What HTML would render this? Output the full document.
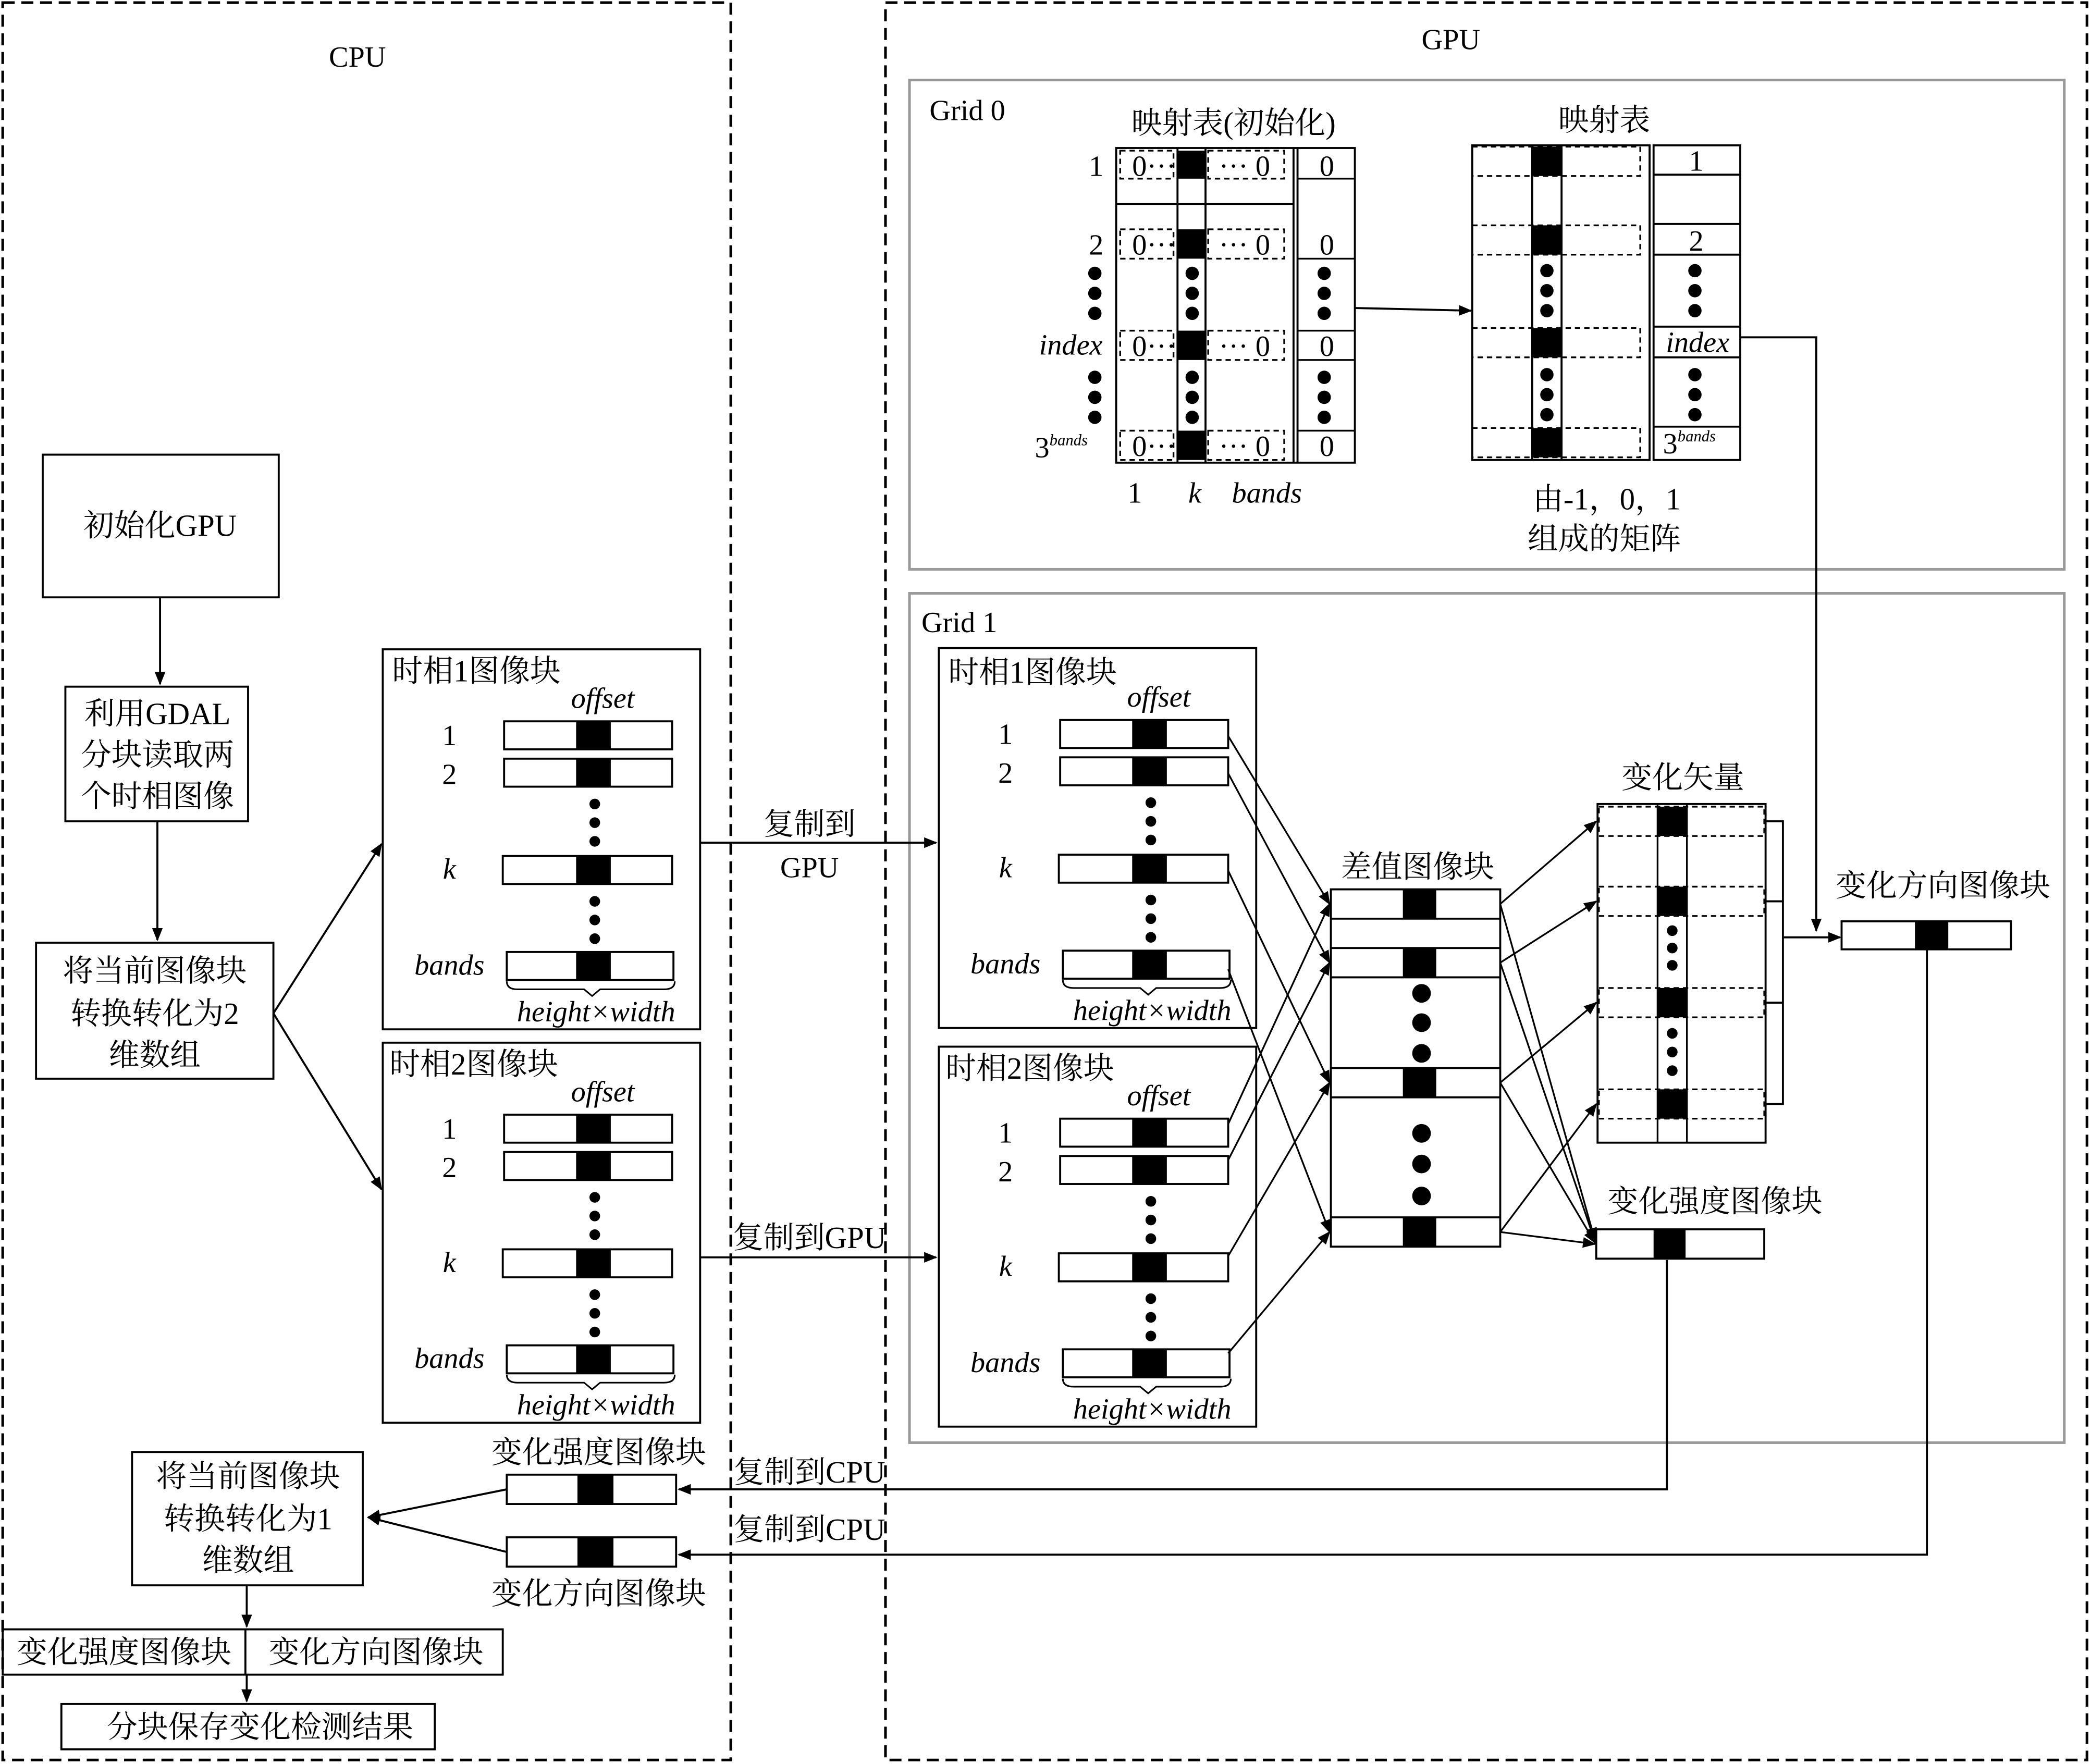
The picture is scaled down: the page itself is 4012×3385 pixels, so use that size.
<!DOCTYPE html>
<html><head><meta charset="utf-8"><style>
html,body{margin:0;padding:0;background:#fff;}
svg{display:block;}
text{font-family:"Liberation Serif","Noto Serif CJK SC",serif;fill:#000;}
.cn{font-size:23px;}
.it{font-style:italic;font-size:22px;}
.n{font-size:22px;}
</style></head><body>
<svg width="4012" height="3385" viewBox="0 0 1568 1323" xmlns="http://www.w3.org/2000/svg">
<defs>
<marker id="a" markerWidth="10" markerHeight="8" refX="9" refY="4" orient="auto" markerUnits="userSpaceOnUse"><path d="M0,0 L10,4 L0,8 z" fill="#000"/></marker>
<g id="blk">
<rect x="0" y="0" width="238" height="285" fill="none" stroke="#000" stroke-width="1.5"/>
<text x="165" y="44" class="it" text-anchor="middle">offset</text>
<text x="50" y="72" class="n" text-anchor="middle">1</text>
<rect x="91" y="54" width="126" height="21" fill="#fff" stroke="#000" stroke-width="1.5"/><rect x="145" y="54" width="26" height="21"/>
<text x="50" y="101" class="n" text-anchor="middle">2</text>
<rect x="91" y="82" width="126" height="21" fill="#fff" stroke="#000" stroke-width="1.5"/><rect x="145" y="82" width="26" height="21"/>
<circle cx="159" cy="116" r="4"/><circle cx="159" cy="130" r="4"/><circle cx="159" cy="144" r="4"/>
<text x="50" y="172" class="it" text-anchor="middle">k</text>
<rect x="90" y="155" width="127" height="21" fill="#fff" stroke="#000" stroke-width="1.5"/><rect x="145" y="155" width="26" height="21"/>
<circle cx="159" cy="189" r="4"/><circle cx="159" cy="203" r="4"/><circle cx="159" cy="217" r="4"/>
<text x="50" y="244" class="it" text-anchor="middle">bands</text>
<rect x="93" y="227" width="125" height="21" fill="#fff" stroke="#000" stroke-width="1.5"/><rect x="145" y="227" width="26" height="21"/>
<path d="M93,249 q0,6 8,6 h50 l6,5 l6,-5 h48 q8,0 8,-6" fill="none" stroke="#000" stroke-width="1.2"/>
<text x="160" y="279" class="it" text-anchor="middle">height×width</text>
</g>
</defs>
<rect width="1568" height="1323" fill="#fff"/>
<!-- main dashed boxes -->
<rect x="2" y="2" width="546" height="1318" fill="none" stroke="#000" stroke-width="2" stroke-dasharray="9,5"/>
<rect x="664" y="2" width="901" height="1318" fill="none" stroke="#000" stroke-width="2" stroke-dasharray="9,5"/>
<text x="268" y="50" class="n" text-anchor="middle">CPU</text>
<text x="1088" y="37" class="n" text-anchor="middle">GPU</text>
<rect x="682" y="60" width="866" height="367" fill="none" stroke="#999" stroke-width="2"/>
<rect x="682" y="445" width="866" height="637" fill="none" stroke="#999" stroke-width="2"/>
<text x="697" y="90" class="n">Grid 0</text>
<text x="691" y="474" class="n">Grid 1</text>

<!-- CPU flow -->
<g stroke="#000" stroke-width="1.5" fill="none">
<rect x="32" y="341" width="177" height="107"/>
<rect x="49" y="515" width="137" height="101"/>
<rect x="27" y="707" width="178" height="102"/>
<rect x="99" y="1089" width="173" height="100"/>
<rect x="2" y="1222" width="375" height="34"/><line x1="184" y1="1222" x2="184" y2="1256"/>
<rect x="46" y="1278" width="280" height="34"/>
<line x1="120" y1="448" x2="120" y2="513" marker-end="url(#a)"/>
<line x1="118" y1="616" x2="118" y2="705" marker-end="url(#a)"/>
<line x1="205" y1="760" x2="286" y2="633" marker-end="url(#a)"/>
<line x1="205" y1="760" x2="286" y2="892" marker-end="url(#a)"/>
<line x1="185" y1="1189" x2="185" y2="1220" marker-end="url(#a)"/>
<line x1="185" y1="1256" x2="185" y2="1276" marker-end="url(#a)"/>
<line x1="380" y1="1117" x2="276" y2="1138" marker-end="url(#a)"/>
<line x1="380" y1="1164" x2="276" y2="1138" marker-end="url(#a)"/>
<line x1="525" y1="632" x2="702" y2="632" marker-end="url(#a)"/>
<line x1="525" y1="943" x2="702" y2="943" marker-end="url(#a)"/>
<polyline points="1250,945 1250,1117 509,1117" marker-end="url(#a)"/>
<polyline points="1445,712 1445,1166 509,1166" marker-end="url(#a)"/>
</g>
<text x="120" y="402" class="cn" text-anchor="middle">初始化GPU</text>
<text x="118" y="543" class="cn" text-anchor="middle">利用GDAL</text>
<text x="118" y="574" class="cn" text-anchor="middle">分块读取两</text>
<text x="118" y="605" class="cn" text-anchor="middle">个时相图像</text>
<text x="116" y="736" class="cn" text-anchor="middle">将当前图像块</text>
<text x="116" y="768" class="cn" text-anchor="middle">转换转化为2</text>
<text x="116" y="799" class="cn" text-anchor="middle">维数组</text>
<text x="186" y="1115" class="cn" text-anchor="middle">将当前图像块</text>
<text x="186" y="1147" class="cn" text-anchor="middle">转换转化为1</text>
<text x="186" y="1178" class="cn" text-anchor="middle">维数组</text>
<text x="93" y="1247" class="cn" text-anchor="middle">变化强度图像块</text>
<text x="282" y="1247" class="cn" text-anchor="middle">变化方向图像块</text>
<text x="195" y="1303" class="cn" text-anchor="middle">分块保存变化检测结果</text>
<text x="607" y="626" class="cn" text-anchor="middle">复制到</text>
<text x="607" y="658" class="n" text-anchor="middle">GPU</text>
<text x="607" y="936" class="cn" text-anchor="middle">复制到GPU</text>
<text x="607" y="1112" class="cn" text-anchor="middle">复制到CPU</text>
<text x="607" y="1155" class="cn" text-anchor="middle">复制到CPU</text>
<text x="449" y="1097" class="cn" text-anchor="middle">变化强度图像块</text>
<rect x="380" y="1106" width="127" height="22" fill="#fff" stroke="#000" stroke-width="1.5"/><rect x="433" y="1106" width="27" height="22"/>
<rect x="380" y="1153" width="127" height="22" fill="#fff" stroke="#000" stroke-width="1.5"/><rect x="433" y="1153" width="27" height="22"/>
<text x="449" y="1203" class="cn" text-anchor="middle">变化方向图像块</text>

<!-- phase blocks -->
<use href="#blk" x="287" y="487"/><text x="294" y="511" class="cn">时相1图像块</text>
<use href="#blk" x="287" y="782"/><text x="292" y="806" class="cn">时相2图像块</text>
<use href="#blk" x="704" y="486"/><text x="711" y="512" class="cn">时相1图像块</text>
<use href="#blk" x="704" y="785"/><text x="709" y="809" class="cn">时相2图像块</text>

<!-- Grid 0 tables -->
<text x="925" y="100" class="cn" text-anchor="middle">映射表(初始化)</text>
<g stroke="#000" stroke-width="1.5" fill="none">
<rect x="837" y="111" width="179" height="236"/>
<line x1="970" y1="111" x2="970" y2="347"/><line x1="973" y1="111" x2="973" y2="347"/>
<line x1="883" y1="111" x2="883" y2="347"/><line x1="904" y1="111" x2="904" y2="347"/>
</g>
<g fill="#000"><rect x="883" y="113" width="21" height="21"/><rect x="883" y="172" width="21" height="22"/><rect x="883" y="248" width="21" height="22"/><rect x="883" y="323" width="21" height="22"/></g>
<g stroke="#000" stroke-width="1.3" fill="none" stroke-dasharray="4,3">
<rect x="840" y="113" width="40" height="21"/><rect x="906" y="113" width="57" height="21"/>
<rect x="840" y="172" width="40" height="22"/><rect x="906" y="172" width="57" height="22"/>
<rect x="840" y="248" width="40" height="22"/><rect x="906" y="248" width="57" height="22"/>
<rect x="840" y="323" width="40" height="22"/><rect x="906" y="323" width="57" height="22"/>
</g>
<g stroke="#000" stroke-width="1.3"><line x1="973" y1="134" x2="1016" y2="134"/><line x1="973" y1="194" x2="1016" y2="194"/><line x1="973" y1="248" x2="1016" y2="248"/><line x1="973" y1="270" x2="1016" y2="270"/><line x1="973" y1="323" x2="1016" y2="323"/><line x1="837" y1="153" x2="970" y2="153"/></g>
<g class="n">
<text x="849" y="132" class="n">0···</text><text x="914" y="132" class="n">··· 0</text><text x="995" y="132" class="n" text-anchor="middle">0</text>
<text x="849" y="191" class="n">0···</text><text x="914" y="191" class="n">··· 0</text><text x="995" y="191" class="n" text-anchor="middle">0</text>
<text x="849" y="267" class="n">0···</text><text x="914" y="267" class="n">··· 0</text><text x="995" y="267" class="n" text-anchor="middle">0</text>
<text x="849" y="342" class="n">0···</text><text x="914" y="342" class="n">··· 0</text><text x="995" y="342" class="n" text-anchor="middle">0</text>
</g>
<g fill="#000">
<circle cx="894" cy="205" r="5"/><circle cx="894" cy="220" r="5"/><circle cx="894" cy="235" r="5"/>
<circle cx="894" cy="283" r="5"/><circle cx="894" cy="298" r="5"/><circle cx="894" cy="313" r="5"/>
<circle cx="993" cy="205" r="5"/><circle cx="993" cy="220" r="5"/><circle cx="993" cy="235" r="5"/>
<circle cx="993" cy="283" r="5"/><circle cx="993" cy="298" r="5"/><circle cx="993" cy="313" r="5"/>
<circle cx="821" cy="205" r="5"/><circle cx="821" cy="220" r="5"/><circle cx="821" cy="235" r="5"/>
<circle cx="821" cy="283" r="5"/><circle cx="821" cy="298" r="5"/><circle cx="821" cy="313" r="5"/>
</g>
<text x="822" y="132" class="n" text-anchor="middle">1</text>
<text x="822" y="191" class="n" text-anchor="middle">2</text>
<text x="803" y="266" class="it" text-anchor="middle">index</text>
<text x="776" y="343" class="n">3<tspan font-size="12" font-style="italic" dy="-9">bands</tspan></text>
<text x="851" y="377" class="n" text-anchor="middle">1</text>
<text x="896" y="377" class="it" text-anchor="middle">k</text>
<text x="950" y="377" class="it" text-anchor="middle">bands</text>
<line x1="1016" y1="231" x2="1103" y2="233" stroke="#000" stroke-width="1.5" marker-end="url(#a)"/>

<text x="1203" y="98" class="cn" text-anchor="middle">映射表</text>
<g stroke="#000" stroke-width="1.5" fill="none">
<rect x="1104" y="109" width="133" height="236"/>
<rect x="1240" y="109" width="65" height="236"/>
<line x1="1149" y1="109" x2="1149" y2="345"/><line x1="1171" y1="109" x2="1171" y2="345"/>
<line x1="1240" y1="131" x2="1305" y2="131"/><line x1="1240" y1="168" x2="1305" y2="168"/><line x1="1240" y1="191" x2="1305" y2="191"/>
<line x1="1240" y1="245" x2="1305" y2="245"/><line x1="1240" y1="268" x2="1305" y2="268"/><line x1="1240" y1="320" x2="1305" y2="320"/>
</g>
<g stroke="#000" stroke-width="1.3" fill="none" stroke-dasharray="4,3">
<rect x="1104" y="110" width="126" height="22"/><rect x="1104" y="169" width="126" height="22"/><rect x="1104" y="246" width="126" height="22"/><rect x="1104" y="321" width="126" height="22"/>
</g>
<g fill="#000"><rect x="1149" y="110" width="22" height="22"/><rect x="1149" y="169" width="22" height="22"/><rect x="1149" y="246" width="22" height="22"/><rect x="1149" y="321" width="22" height="22"/>
<circle cx="1160" cy="203" r="5"/><circle cx="1160" cy="218" r="5"/><circle cx="1160" cy="233" r="5"/>
<circle cx="1160" cy="281" r="5"/><circle cx="1160" cy="296" r="5"/><circle cx="1160" cy="311" r="5"/>
<circle cx="1271" cy="203" r="5"/><circle cx="1271" cy="218" r="5"/><circle cx="1271" cy="233" r="5"/>
<circle cx="1271" cy="281" r="5"/><circle cx="1271" cy="296" r="5"/><circle cx="1271" cy="311" r="5"/></g>
<text x="1272" y="128" class="n" text-anchor="middle">1</text>
<text x="1272" y="188" class="n" text-anchor="middle">2</text>
<text x="1273" y="264" class="it" text-anchor="middle">index</text>
<text x="1247" y="340" class="n">3<tspan font-size="12" font-style="italic" dy="-9">bands</tspan></text>
<text x="1205" y="382" class="cn" text-anchor="middle">由-1，0，1</text>
<text x="1203" y="412" class="cn" text-anchor="middle">组成的矩阵</text>
<polyline points="1305,253 1362,253 1362,698" fill="none" stroke="#000" stroke-width="1.5" marker-end="url(#a)"/>

<!-- Grid 1: diff block -->
<text x="1063" y="658" class="cn" text-anchor="middle">差值图像块</text>
<rect x="998" y="667" width="127" height="268" fill="none" stroke="#000" stroke-width="1.5"/>
<g stroke="#000" stroke-width="1.5"><line x1="998" y1="689" x2="1125" y2="689"/><line x1="998" y1="711" x2="1125" y2="711"/><line x1="998" y1="733" x2="1125" y2="733"/><line x1="998" y1="801" x2="1125" y2="801"/><line x1="998" y1="823" x2="1125" y2="823"/><line x1="998" y1="913" x2="1125" y2="913"/></g>
<g fill="#000"><rect x="1052" y="667" width="25" height="22"/><rect x="1052" y="711" width="25" height="22"/><rect x="1052" y="801" width="25" height="22"/><rect x="1052" y="913" width="25" height="22"/>
<circle cx="1066" cy="745" r="7"/><circle cx="1066" cy="767" r="7"/><circle cx="1066" cy="790" r="7"/>
<circle cx="1066" cy="850" r="7"/><circle cx="1066" cy="873" r="7"/><circle cx="1066" cy="897" r="7"/></g>

<!-- vector block -->
<text x="1262" y="591" class="cn" text-anchor="middle">变化矢量</text>
<rect x="1198" y="603" width="126" height="254" fill="none" stroke="#000" stroke-width="1.5"/>
<g stroke="#000" stroke-width="1.3" fill="none" stroke-dasharray="4,3"><rect x="1199" y="605" width="124" height="22"/><rect x="1199" y="665" width="124" height="22"/><rect x="1199" y="741" width="124" height="22"/><rect x="1199" y="817" width="124" height="22"/></g>
<g stroke="#000" stroke-width="1.3"><line x1="1243" y1="603" x2="1243" y2="857"/><line x1="1265" y1="603" x2="1265" y2="857"/></g>
<g fill="#000"><rect x="1243" y="605" width="22" height="22"/><rect x="1243" y="665" width="22" height="22"/><rect x="1243" y="741" width="22" height="22"/><rect x="1243" y="817" width="22" height="22"/>
<circle cx="1254" cy="698" r="4"/><circle cx="1254" cy="711" r="4"/><circle cx="1254" cy="724" r="4"/>
<circle cx="1254" cy="775" r="4"/><circle cx="1254" cy="789" r="4"/><circle cx="1254" cy="803" r="4"/></g>
<g stroke="#000" stroke-width="1.5" fill="none">
<polyline points="1324,616 1337,616 1337,828 1324,828"/><line x1="1324" y1="676" x2="1337" y2="676"/><line x1="1324" y1="752" x2="1337" y2="752"/>
<line x1="1337" y1="703" x2="1380" y2="703" marker-end="url(#a)"/>
</g>
<text x="1457" y="672" class="cn" text-anchor="middle">变化方向图像块</text>
<rect x="1381" y="691" width="127" height="21" fill="#fff" stroke="#000" stroke-width="1.5"/><rect x="1436" y="691" width="25" height="21"/>
<text x="1286" y="909" class="cn" text-anchor="middle">变化强度图像块</text>
<rect x="1197" y="922" width="126" height="22" fill="#fff" stroke="#000" stroke-width="1.5"/><rect x="1240" y="922" width="24" height="22"/>

<!-- connectors -->
<g stroke="#000" stroke-width="1.3" fill="none" marker-end="url(#a)">
<line x1="921" y1="552" x2="997" y2="678"/><line x1="921" y1="843" x2="997" y2="678"/>
<line x1="921" y1="580" x2="997" y2="722"/><line x1="921" y1="870" x2="997" y2="722"/>
<line x1="921" y1="653" x2="997" y2="812"/><line x1="921" y1="942" x2="997" y2="812"/>
<line x1="921" y1="727" x2="997" y2="924"/><line x1="921" y1="1015" x2="997" y2="924"/>
<line x1="1125" y1="678" x2="1197" y2="616"/><line x1="1125" y1="722" x2="1197" y2="676"/>
<line x1="1125" y1="812" x2="1197" y2="752"/><line x1="1125" y1="924" x2="1197" y2="828"/>
<line x1="1125" y1="678" x2="1196" y2="930"/><line x1="1125" y1="722" x2="1196" y2="931"/>
<line x1="1125" y1="812" x2="1196" y2="932"/><line x1="1125" y1="924" x2="1196" y2="933"/>
</g>
</svg>
</body></html>
